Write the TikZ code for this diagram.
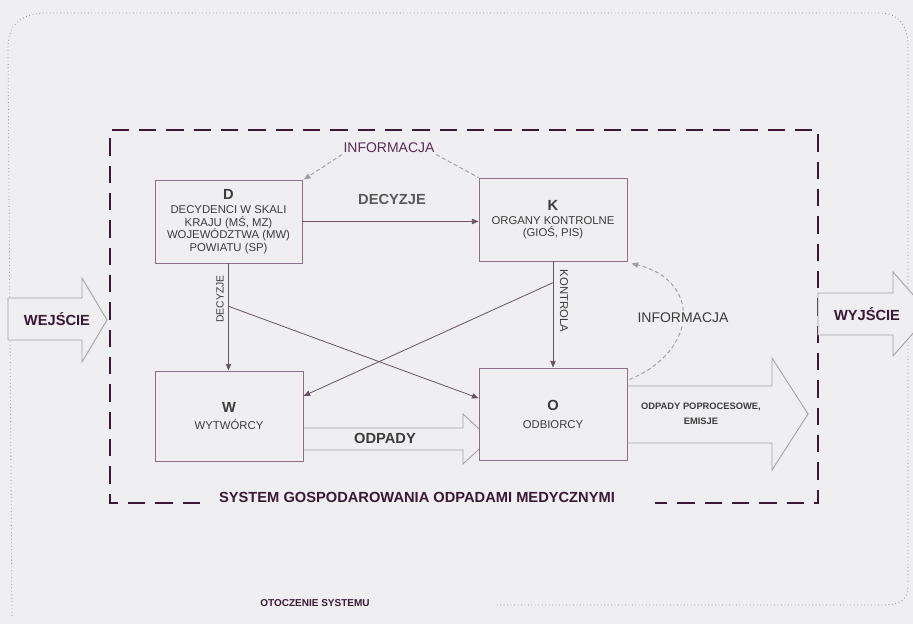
\documentclass[tikz,border=0pt]{standalone}
\usepackage{fontspec}
\setmainfont{Liberation Sans}
\usetikzlibrary{arrows.meta,calc}

\definecolor{paper}{HTML}{EFEEF0}
\definecolor{frame}{HTML}{3A1836}
\definecolor{boxline}{HTML}{8C6F88}
\definecolor{link}{HTML}{6A5266}
\definecolor{ink}{HTML}{3C3C3C}
\definecolor{plum}{HTML}{5A2C56}
\definecolor{hollow}{HTML}{A8A4A8}
\definecolor{dots}{HTML}{9C8C9A}

\begin{document}
\begin{tikzpicture}[x=0.75pt,y=-0.75pt,
  box/.style={draw=boxline,line width=0.7pt,fill=paper,align=center,inner sep=0pt,
    text=ink,font=\fontsize{8.5}{9.4}\selectfont},
  conn/.style={draw=link,line width=0.6pt},
  tip/.style={-{Triangle[length=5pt,width=4pt]}},
  infoline/.style={draw=gray!75,line width=0.7pt,dash pattern=on 3pt off 2pt},
  bigarrow/.style={draw=hollow,line width=0.7pt,fill=paper},
  sysframe/.style={draw=frame,line width=1.5pt,dash pattern=on 13pt off 7.5pt},
  lbl/.style={inner sep=1pt},
]
\fill[paper] (0,0) rectangle (913,624);
\clip (0,0) rectangle (913,624);

% surroundings of the system
\draw[dots,line width=0.6pt,dotted] (12,616) -- (8,48)
  .. controls (8,25) and (20,14) .. (45,13) -- (880,13)
  .. controls (900,14) and (907,25) .. (908,45) -- (908,588)
  .. controls (907,600) and (900,604) .. (885,605) -- (495,605);
\node[lbl,text=frame,font=\fontsize{7.5}{9}\selectfont\bfseries] (env) at (315,603) {OTOCZENIE SYSTEMU};

% system boundary
\draw[sysframe] (200,503) -- (110,503) -- (110,130) -- (818,130) -- (818,503) -- (655,503);
\node[lbl,text=frame,font=\fontsize{11}{13}\selectfont\bfseries] (sys) at (417,497)
  {SYSTEM GOSPODAROWANIA ODPADAMI MEDYCZNYMI};

% input and output of the system
\draw[bigarrow] (8,298) -- (82,298) -- (82,278) -- (107,320) -- (82,362) -- (82,340) -- (8,340) -- cycle;
\node[lbl,text=frame,font=\fontsize{11}{12}\selectfont\bfseries] (in) at (57,319) {WEJŚCIE};
\draw[bigarrow] (818,293) -- (893,293) -- (893,272) -- (930,314) -- (893,356) -- (893,335) -- (818,335) -- cycle;
\node[lbl,text=frame,font=\fontsize{11}{12}\selectfont\bfseries] (out) at (867,314) {WYJŚCIE};

% waste flows
\draw[bigarrow] (303,428) -- (463,428) -- (463,414) -- (490,439) -- (463,464) -- (463,450) -- (303,450) -- cycle;
\node[lbl,text=ink,font=\fontsize{11}{13}\selectfont\bfseries] (waste) at (385,438) {ODPADY};
\draw[bigarrow] (627,386) -- (772,386) -- (772,358) -- (808,414) -- (772,470) -- (772,443) -- (627,443) -- cycle;

% actors
\node[box,minimum width=110.25pt,minimum height=62.25pt] (D) at (228.5,221.5)
  {{\fontsize{11}{12}\selectfont\bfseries D}\\[1pt]DECYDENCI W SKALI\\KRAJU (MŚ, MZ)\\WOJEWÓDZTWA (MW)\\POWIATU (SP)};
\node[box,minimum width=111pt,minimum height=62.25pt] (K) at (553,219.5)
  {{\fontsize{11}{12}\selectfont\bfseries K}\\[1pt]ORGANY KONTROLNE\\(GIOŚ, PIS)};
\node[box,minimum width=111pt,minimum height=67.5pt] (W) at (229,416)
  {{\fontsize{11}{12}\selectfont\bfseries W}\\[4pt]WYTWÓRCY};
\node[box,minimum width=111pt,minimum height=69pt] (O) at (553,414)
  {{\fontsize{11}{12}\selectfont\bfseries O}\\[4pt]ODBIORCY};

\node[lbl,text=ink,align=center,font=\fontsize{7}{11}\selectfont\bfseries] (emis) at (701,414)
  {ODPADY POPROCESOWE,\\EMISJE};

% decisions and control
\draw[conn,tip] (D.east) -- (D.east -| K.west);
\node[lbl,text=ink!85,font=\fontsize{11}{13}\selectfont\bfseries] (dec) at (392,199) {DECYZJE};
\draw[conn,tip] (D.south) -- (D.south |- W.north);
\node[lbl,rotate=90,text=ink,font=\fontsize{7.8}{8}\selectfont] (decv) at (220,299) {DECYZJE};
\draw[conn,tip] (K.south) -- (K.south |- O.north);
\node[lbl,rotate=-90,text=ink,font=\fontsize{8.5}{9}\selectfont] (ctrl) at (564,301) {KONTROLA};

\coordinate (dsplit) at ($(D.south)!0.4!(D.south |- W.north)$);
\coordinate (ksplit) at ($(K.south)!0.2!(K.south |- O.north)$);
\draw[conn,tip] (dsplit) -- ($(O.north west)!0.33!(O.south west)$);
\draw[conn,tip] (ksplit) -- ($(W.north east)!0.28!(W.south east)$);

% information feedback
\node[lbl,text=plum,font=\fontsize{10.5}{12}\selectfont] (info1) at (389,148) {INFORMACJA};
\draw[infoline,tip] (info1.south west) -- ([xshift=1pt]D.north east);
\draw[infoline] (info1.south east) -- (K.north west);
\draw[infoline,tip] ($(O.north east)+(2,12)$) .. controls (700,350) and (700,280) .. ($(K.south east)+(4,2)$);
\node[lbl,fill=paper,text=ink,font=\fontsize{10.5}{12}\selectfont] (info2) at (683,318) {INFORMACJA};
\end{tikzpicture}
\end{document}
